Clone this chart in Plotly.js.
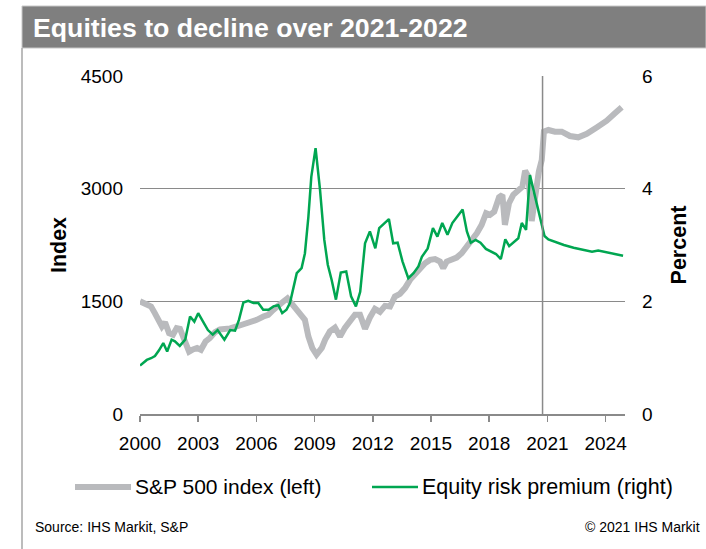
<!DOCTYPE html>
<html>
<head>
<meta charset="utf-8">
<script src="https://cdn.plot.ly/plotly-3.0.1.min.js"></script>
<style>
  html, body { margin: 0; padding: 0; background: #ffffff; }
  #chart { width: 706px; height: 549px; }
</style>
</head>
<body>
<div id="chart"></div>
<script>
// ---- Data ----
const chartTitle = "Equities to decline over 2021-2022";
const spName = "S&P 500 index (left)";
const erpName = "Equity risk premium (right)";
const sourceText = "Source: IHS Markit, S&P";
const copyrightText = "© 2021 IHS Markit";
const forecastStart = 2020.75;

const xTickVals = [2000, 2003, 2006, 2009, 2012, 2015, 2018, 2021, 2024];
const yLeftTicks = [0, 1500, 3000, 4500];
const yRightTicks = [0, 2, 4, 6];

// S&P 500 index (left axis)
const spYears = [
  2000.0, 2000.35, 2000.57, 2000.77, 2000.98, 2001.13, 2001.29, 2001.5, 2001.7, 2001.89,
  2002.06, 2002.29, 2002.53, 2002.73, 2002.94, 2003.14, 2003.38, 2003.6, 2003.87, 2004.12,
  2004.38, 2004.64, 2004.98, 2005.32, 2005.67, 2006.02, 2006.36, 2006.61, 2006.87, 2007.13,
  2007.39, 2007.6, 2007.82, 2008.08, 2008.34, 2008.5, 2008.68, 2008.88, 2009.1, 2009.37,
  2009.54, 2009.79, 2010.05, 2010.31, 2010.57, 2010.82, 2011.08, 2011.34, 2011.6, 2011.86,
  2012.11, 2012.37, 2012.63, 2012.89, 2013.14, 2013.4, 2013.66, 2013.92, 2014.18, 2014.43,
  2014.69, 2014.95, 2015.21, 2015.46, 2015.63, 2015.81, 2016.07, 2016.32, 2016.58, 2016.84,
  2017.1, 2017.36, 2017.61, 2017.84, 2018.04, 2018.26, 2018.51, 2018.68, 2018.81, 2019.02,
  2019.24, 2019.5, 2019.71, 2019.85, 2020.02, 2020.19, 2020.36, 2020.56, 2020.71, 2020.82,
  2021.05, 2021.39, 2021.74, 2022.16, 2022.59, 2023.03, 2023.54, 2024.06, 2024.48, 2024.83
];
const spValues = [
  1500, 1450, 1430, 1340, 1230, 1165, 1220, 1075, 1055, 1144,
  1135, 966, 830, 860, 878, 855, 966, 1011, 1090, 1125,
  1131, 1140, 1165, 1188, 1232, 1254, 1298, 1321, 1387, 1431,
  1498, 1540, 1476, 1387, 1298, 1254, 1032, 878, 790, 880,
  988, 1100, 1150, 1032, 1150, 1240, 1321, 1321, 1135, 1290,
  1400, 1360, 1440, 1431, 1564, 1600, 1676, 1786, 1865, 1950,
  2008, 2052, 2062, 2030, 1942, 2030, 2052, 2083, 2141, 2221,
  2318, 2407, 2518, 2673, 2651, 2695, 2886, 2917, 2518, 2806,
  2917, 2983, 3027, 3240, 3160, 2570, 2900, 3230, 3382, 3760,
  3781, 3759, 3759, 3701, 3684, 3730, 3815, 3905, 4003, 4083
];

// Equity risk premium, percent (right axis)
const erpYears = [
  2000.0, 2000.35, 2000.57, 2000.77, 2000.98, 2001.2, 2001.4, 2001.63, 2001.8, 2002.05,
  2002.33, 2002.58, 2002.8, 2003.0, 2003.25, 2003.5, 2003.75, 2004.0, 2004.35, 2004.65,
  2004.9, 2005.1, 2005.33, 2005.58, 2005.85, 2006.1, 2006.35, 2006.63, 2006.88, 2007.13,
  2007.33, 2007.55, 2007.73, 2007.9, 2008.08, 2008.33, 2008.5, 2008.68, 2008.83, 2009.05,
  2009.28, 2009.5, 2009.68, 2009.88, 2010.1, 2010.35, 2010.63, 2010.88, 2011.13, 2011.35,
  2011.6, 2011.85, 2012.13, 2012.33, 2012.6, 2012.83, 2013.05, 2013.28, 2013.53, 2013.83,
  2014.1, 2014.35, 2014.53, 2014.83, 2015.1, 2015.33, 2015.58, 2015.85, 2016.1, 2016.35,
  2016.63, 2016.85, 2017.05, 2017.3, 2017.55, 2017.83, 2018.08, 2018.35, 2018.6, 2018.83,
  2019.03, 2019.3, 2019.5, 2019.68, 2019.9, 2020.1, 2020.36, 2020.62, 2020.85, 2021.05,
  2021.5, 2021.85, 2022.35, 2022.85, 2023.3, 2023.62, 2024.05, 2024.48, 2024.9
];
const erpValues = [
  0.86, 0.96, 0.99, 1.03, 1.13, 1.26, 1.11, 1.32, 1.29, 1.21,
  1.32, 1.73, 1.64, 1.79, 1.64, 1.49, 1.41, 1.49, 1.32, 1.49,
  1.48, 1.67, 1.98, 2.01, 1.97, 1.97, 1.85, 1.85, 1.91, 1.93,
  1.79, 1.85, 1.97, 2.23, 2.50, 2.59, 2.85, 3.50, 4.21, 4.72,
  3.98, 3.09, 2.65, 2.38, 2.03, 2.51, 2.53, 2.09, 1.91, 2.17,
  3.03, 3.24, 2.94, 3.30, 3.39, 3.46, 3.03, 3.04, 2.71, 2.41,
  2.50, 2.62, 2.79, 2.94, 3.30, 3.15, 3.39, 3.18, 3.39, 3.50,
  3.63, 3.24, 3.04, 3.09, 3.04, 2.93, 2.88, 2.84, 2.75, 3.10,
  2.98, 3.06, 3.12, 3.39, 3.27, 4.24, 3.85, 3.50, 3.16, 3.10,
  3.04, 3.00, 2.95, 2.91, 2.88, 2.90, 2.87, 2.84, 2.81
];

// ---- Styles ----
const FONT = "Liberation Sans, Arial, Helvetica, sans-serif";
const GRAY_LINE = "#b9babd";
const GREEN = "#00a651";
const GRID = "#8a8a8a";
const BAR = "#7f7f7f";

// plot area in pixels (for converting layout decorations to paper coordinates)
const W = 706, H = 549;
const M = { l: 140, r: 81, t: 76, b: 135 };
const PW = W - M.l - M.r, PH = H - M.t - M.b;
const px = v => (v - M.l) / PW;
const py = v => (H - M.b - v) / PH;

const traces = [
  {
    x: spYears, y: spValues, name: spName, type: "scatter", mode: "lines",
    line: { color: GRAY_LINE, width: 6 }, yaxis: "y", hoverinfo: "skip"
  },
  {
    x: erpYears, y: erpValues, name: erpName, type: "scatter", mode: "lines",
    line: { color: GREEN, width: 2.5 }, yaxis: "y2", hoverinfo: "skip"
  }
];

const layout = {
  width: W, height: H,
  margin: M,
  paper_bgcolor: "#ffffff",
  plot_bgcolor: "#ffffff",
  font: { family: FONT, color: "#000000", size: 19 },
  showlegend: false,
  title: {
    text: "<b>" + chartTitle + "</b>",
    font: { family: FONT, size: 26.7, color: "#ffffff" },
    xref: "container", yref: "container",
    x: 33 / W, xanchor: "left",
    y: 1 - 28 / H, yanchor: "middle"
  },
  xaxis: {
    range: [2000, 2025],
    tickvals: xTickVals,
    ticktext: xTickVals.map(String),
    ticks: "outside", ticklen: 6, tickwidth: 1.5, tickcolor: GRID,
    showline: true, linecolor: GRID, linewidth: 1.5,
    showgrid: false, zeroline: false,
    tickfont: { family: FONT, size: 19, color: "#000" },
    ticklabelstandoff: 6,
    fixedrange: true
  },
  yaxis: {
    range: [0, 4500],
    tickvals: yLeftTicks,
    ticktext: yLeftTicks.map(String),
    showgrid: true, gridcolor: GRID, gridwidth: 1.5,
    zeroline: false, showline: false, ticks: "",
    tickfont: { family: FONT, size: 19, color: "#000" },
    ticklabelstandoff: 16,
    title: { text: "<b>Index</b>", font: { family: FONT, size: 21.5, color: "#000" }, standoff: 8 },
    fixedrange: true
  },
  yaxis2: {
    range: [0, 6],
    tickvals: yRightTicks,
    ticktext: yRightTicks.map(String),
    overlaying: "y", side: "right",
    showgrid: false, zeroline: false, showline: false, ticks: "",
    tickfont: { family: FONT, size: 19, color: "#000" },
    ticklabelstandoff: 16,
    title: { text: "<b>Percent</b>", font: { family: FONT, size: 21.5, color: "#000" }, standoff: 18 },
    fixedrange: true
  },
  shapes: [
    // title bar
    { type: "rect", xref: "paper", yref: "paper", layer: "below",
      x0: px(22), x1: px(706), y0: py(48), y1: py(6),
      fillcolor: BAR, line: { color: "#c8c8c8", width: 1 } },
    // left frame line
    { type: "line", xref: "paper", yref: "paper",
      x0: px(22), x1: px(22), y0: py(48), y1: py(549),
      line: { color: "#a6a6a6", width: 1.5 } },
    // forecast divider
    { type: "line", xref: "x", yref: "paper",
      x0: forecastStart, x1: forecastStart, y0: 0, y1: 1,
      line: { color: GRID, width: 1.5 } },
    // legend samples
    { type: "line", xref: "paper", yref: "paper",
      x0: px(75), x1: px(131), y0: py(487), y1: py(487),
      line: { color: GRAY_LINE, width: 6 } },
    { type: "line", xref: "paper", yref: "paper",
      x0: px(372), x1: px(418), y0: py(487), y1: py(487),
      line: { color: GREEN, width: 2.5 } }
  ],
  annotations: [
    { xref: "paper", yref: "paper", x: px(133), y: py(487), xanchor: "left", yanchor: "middle",
      text: spName, showarrow: false, font: { family: FONT, size: 21, color: "#000" } },
    { xref: "paper", yref: "paper", x: px(420), y: py(487), xanchor: "left", yanchor: "middle",
      text: erpName, showarrow: false, font: { family: FONT, size: 21.5, color: "#000" } },
    { xref: "paper", yref: "paper", x: px(33), y: py(527), xanchor: "left", yanchor: "middle",
      text: sourceText, showarrow: false, font: { family: FONT, size: 14, color: "#000" } },
    { xref: "paper", yref: "paper", x: px(702), y: py(527), xanchor: "right", yanchor: "middle",
      text: copyrightText, showarrow: false, font: { family: FONT, size: 14, color: "#000" } }
  ]
};

Plotly.newPlot("chart", traces, layout, { displayModeBar: false, staticPlot: true });
</script>
</body>
</html>
